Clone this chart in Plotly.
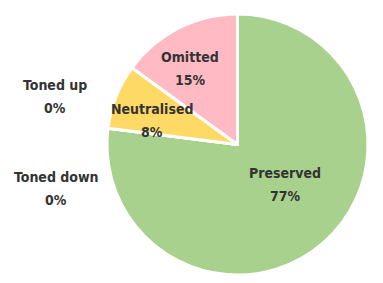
import plotly.graph_objects as go

categories = ["Preserved", "Toned down", "Neutralised", "Toned up", "Omitted"]
values = [77, 0, 8, 0, 15]
colors = ["#A9D18E", "#F4B183", "#FFD966", "#9DC3E6", "#FFBAC4"]

# the page body adds an 8px offset, so the figure is drawn 8px smaller
OFF = 8
W, H = 383 - OFF, 283 - OFF
# label anchor positions in window pixels (centre of name line)
label_pos = {
    "Preserved": (285, 173),
    "Toned down": (56, 177),
    "Neutralised": (152, 109),
    "Toned up": (55, 85),
    "Omitted": (190, 57),
}
line_gap = 23

font_family = "DejaVu Sans Condensed, Liberation Sans Narrow, Arial Narrow, sans-serif"
txt_color = "#333333"

fig = go.Figure(go.Pie(
    labels=categories,
    values=values,
    sort=False,
    direction="clockwise",
    rotation=0,
    marker=dict(colors=colors, line=dict(color="white", width=3)),
    textinfo="none",
    hoverinfo="label+percent",
    domain=dict(x=[(107 - OFF) / W, (368 - OFF) / W],
                y=[(283 - 276) / H, (283 - 13) / H]),
    showlegend=False,
))

total = sum(values)
annotations = []
for cat, v in zip(categories, values):
    px, py = label_pos[cat]
    pct = f"{round(100 * v / total)}%"
    for i, t in enumerate([cat, pct]):
        annotations.append(dict(
            x=(px - OFF) / W, y=1 - (py - OFF + i * line_gap) / H,
            xref="paper", yref="paper",
            text=f"<b>{t}</b>", showarrow=False,
            xanchor="center", yanchor="middle",
            font=dict(family=font_family, size=14, color=txt_color),
        ))

fig.update_layout(
    width=W, height=H,
    margin=dict(l=0, r=0, t=0, b=0),
    paper_bgcolor="white",
    plot_bgcolor="white",
    annotations=annotations,
)

fig.write_html("out.html")
